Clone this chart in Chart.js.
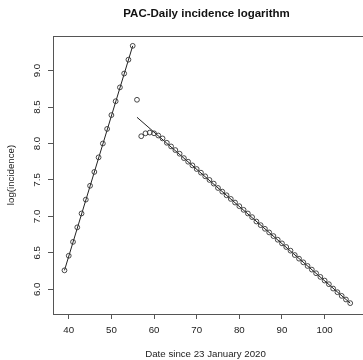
<!DOCTYPE html>
<html lang="en">
<head>
<meta charset="UTF-8">
<title>PAC-Daily incidence logarithm</title>
<script src="https://cdn.jsdelivr.net/npm/chart.js@4.4.1/dist/chart.umd.min.js"></script>
<style>
   html, body { margin: 0; padding: 0; background: #fff; }
   #wrap { width: 363px; height: 360px; }
</style>
</head>
<body>
<div id="wrap"><canvas id="myChart" width="363" height="360"></canvas></div>
<script>
   // days since 23 January 2020
   var days = [39, 40, 41, 42, 43, 44, 45, 46, 47, 48, 49, 50, 51, 52, 53, 54, 55,
      56, 57, 58, 59, 60, 61, 62, 63, 64, 65, 66, 67, 68, 69, 70,
      71, 72, 73, 74, 75, 76, 77, 78, 79, 80, 81, 82, 83, 84, 85, 86, 87, 88,
      89, 90, 91, 92, 93, 94, 95, 96, 97, 98, 99, 100, 101, 102, 103, 104, 105, 106];
   // log(daily incidence)
   var logInc = [6.26, 6.46, 6.65, 6.85, 7.04, 7.23, 7.42, 7.61, 7.81, 8.00, 8.20, 8.39, 8.58, 8.77, 8.96, 9.15, 9.34,
      8.60, 8.10, 8.14, 8.15, 8.14, 8.11, 8.07, 8.01, 7.96, 7.91, 7.86, 7.80, 7.75, 7.70, 7.65,
      7.60, 7.55, 7.50, 7.45, 7.39, 7.34, 7.29, 7.24, 7.19, 7.14, 7.09, 7.04, 6.99, 6.93, 6.88, 6.83, 6.78, 6.73,
      6.68, 6.63, 6.58, 6.53, 6.47, 6.42, 6.37, 6.32, 6.27, 6.22, 6.17, 6.12, 6.07, 6.01, 5.96, 5.91, 5.86, 5.81];
   // fitted lines (growth / decline)
   var fitUpX = [39, 55];
   var fitUpY = [6.26, 9.34];
   var fitDownX = [56, 106];
   var fitDownY = [8.36, 5.81];

   var xTicks = [40, 50, 60, 70, 80, 90, 100];
   var yTicks = [6.0, 6.5, 7.0, 7.5, 8.0, 8.5, 9.0];

   function toXY(xs, ys) {
      return xs.map(function (x, i) { return { x: x, y: ys[i] }; });
   }

   var axisFont = { family: "'Liberation Sans', Arial, sans-serif", size: 9.7 };

   //plot box + main title (R style)
   var rBox = {
      id: 'rBox',
      afterDraw: function (chart) {
         var c = chart.ctx, a = chart.chartArea;
         c.save();
         c.strokeStyle = '#555';
         c.lineWidth = 1;
         c.strokeRect(a.left + 0.5, a.top + 0.5, a.right - a.left + 10, a.bottom - a.top);
         c.fillStyle = '#111';
         c.font = "bold 11.5px 'Liberation Sans', Arial, sans-serif";
         c.textAlign = 'center';
         c.textBaseline = 'middle';
         c.fillText('PAC-Daily incidence logarithm', (a.left + a.right) / 2 + 1, 14);
         c.restore();
      }
   };

   var ctx = document.getElementById('myChart').getContext('2d');
   var myChart = new Chart(ctx, {
      type: 'scatter',
      plugins: [rBox],
      data: {
         datasets: [{
            data: toXY(days, logInc),
            showLine: false,
            pointStyle: 'circle',
            pointRadius: 2.4,
            pointBorderWidth: 0.9,
            pointBorderColor: '#333',
            pointBackgroundColor: 'rgba(0,0,0,0)',
         }, {
            data: toXY(fitUpX, fitUpY),
            showLine: true,
            borderColor: '#222',
            borderWidth: 1,
            pointRadius: 0,
         }, {
            data: toXY(fitDownX, fitDownY),
            showLine: true,
            borderColor: '#222',
            borderWidth: 1,
            pointRadius: 0,
         }]
      },
      options: {
         responsive: false,
         animation: false,
         layout: { padding: { top: 36, right: 0, bottom: 0, left: 0 } },
         plugins: {
            legend: { display: false },
            tooltip: { enabled: false },
            title: { display: false }
         },
         scales: {
            x: {
               type: 'linear',
               min: 36.31,
               max: 107.85,
               afterBuildTicks: function (scale) {
                  scale.ticks = xTicks.map(function (v) { return { value: v }; });
               },
               afterFit: function (scale) { scale.height = 46; },
               ticks: {
                  color: '#222',
                  font: axisFont,
                  padding: 6,
                  maxRotation: 0,
                  autoSkip: false
               },
               grid: { drawOnChartArea: false, tickLength: 5, color: '#555' },
               border: { display: false },
               title: {
                  display: true,
                  text: 'Date since 23 January 2020',
                  color: '#222',
                  font: axisFont,
                  padding: { top: 0, bottom: 0 }
               }
            },
            y: {
               type: 'linear',
               min: 5.661,
               max: 9.475,
               afterBuildTicks: function (scale) {
                  scale.ticks = yTicks.map(function (v) { return { value: v }; });
               },
               afterFit: function (scale) { scale.width = 53; },
               ticks: {
                  color: '#222',
                  font: axisFont,
                  minRotation: 90,
                  maxRotation: 90,
                  crossAlign: 'center',
                  padding: 4,
                  autoSkip: false,
                  callback: function (v) { return Number(v).toFixed(1); }
               },
               grid: { drawOnChartArea: false, tickLength: 5, color: '#555' },
               border: { display: false },
               title: {
                  display: true,
                  text: 'log(incidence)',
                  color: '#222',
                  font: axisFont,
                  padding: { top: 6, bottom: 0 }
               }
            }
         }
      }
   });
</script>
</body>
</html>
